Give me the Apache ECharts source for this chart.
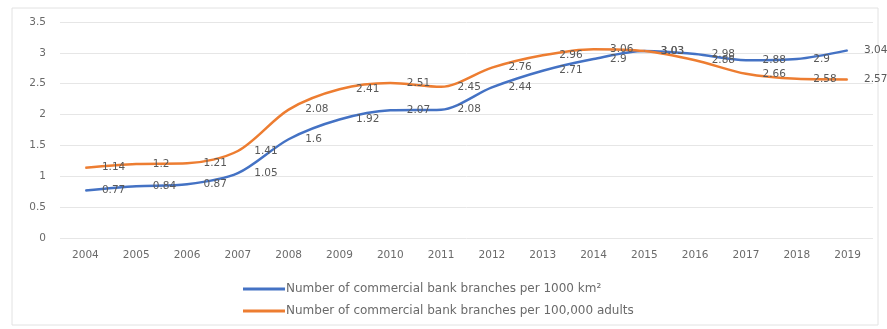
<!DOCTYPE html>
<html>
<head>
<meta charset="utf-8">
<script src="https://cdn.jsdelivr.net/npm/echarts@6/dist/echarts.min.js"></script>
<style>
  html, body { margin: 0; padding: 0; background: #fff; }
  #chart { width: 887px; height: 329px; }
</style>
</head>
<body>
<div id="chart"></div>
<script>
const years = ['2004', '2005', '2006', '2007', '2008', '2009', '2010', '2011',
  '2012', '2013', '2014', '2015', '2016', '2017', '2018', '2019'];
const perArea = [0.77, 0.84, 0.87, 1.05, 1.6, 1.92, 2.07, 2.08, 2.44, 2.71, 2.9, 3.03, 2.98, 2.88, 2.9, 3.04];
const perAdults = [1.14, 1.2, 1.21, 1.41, 2.08, 2.41, 2.51, 2.45, 2.76, 2.96, 3.06, 3.03, 2.88, 2.66, 2.58, 2.57];
const yTicks = { min: 0, max: 3.5, interval: 0.5 };

const font = 'DejaVu Sans';
const chart = echarts.init(document.getElementById('chart'));

function lineSeries(name, data, color) {
  return {
    name: name,
    type: 'line',
    data: data,
    smooth: 0.3,
    symbol: 'circle',
    symbolSize: 1,
    showSymbol: true,
    lineStyle: { color: color, width: 2.5 },
    itemStyle: { color: color },
    label: {
      show: true,
      position: 'right',
      distance: 16,
      offset: [0, 2],
      fontFamily: font,
      fontSize: 10.5,
      color: '#595959'
    },
    labelLayout: { hideOverlap: false }
  };
}

chart.setOption({
  animation: false,
  textStyle: { fontFamily: font },
  graphic: [{
    type: 'rect',
    shape: { x: 12, y: 8, width: 866, height: 317 },
    style: { fill: 'none', stroke: '#e2e2e2', lineWidth: 1 },
    silent: true
  }],
  grid: { left: 60, right: 14, top: 22, bottom: 91 },
  legend: {
    orient: 'vertical',
    left: 238,
    top: 278,
    itemGap: 10,
    itemWidth: 42,
    itemHeight: 3,
    icon: 'rect',
    textStyle: { fontFamily: font, fontSize: 12, color: '#6a6a6a', padding: [0, 0, 0, -4] },
    data: [
      { name: 'Number of commercial bank branches per 1000 km²', itemStyle: { color: '#4472c4' } },
      { name: 'Number of commercial bank branches per 100,000 adults', itemStyle: { color: '#ed7d31' } }
    ]
  },
  xAxis: {
    type: 'category',
    data: years,
    boundaryGap: true,
    axisLine: { show: false },
    axisTick: { show: false },
    axisLabel: { fontFamily: font, fontSize: 10.5, color: '#6a6a6a', margin: 12 }
  },
  yAxis: {
    type: 'value',
    min: yTicks.min,
    max: yTicks.max,
    interval: yTicks.interval,
    axisLine: { show: false },
    axisTick: { show: false },
    splitLine: { lineStyle: { color: '#e6e6e6', width: 1 } },
    axisLabel: { fontFamily: font, fontSize: 10.5, color: '#6a6a6a', margin: 14 }
  },
  series: [
    lineSeries('Number of commercial bank branches per 1000 km²', perArea, '#4472c4'),
    lineSeries('Number of commercial bank branches per 100,000 adults', perAdults, '#ed7d31')
  ]
});
</script>
</body>
</html>
